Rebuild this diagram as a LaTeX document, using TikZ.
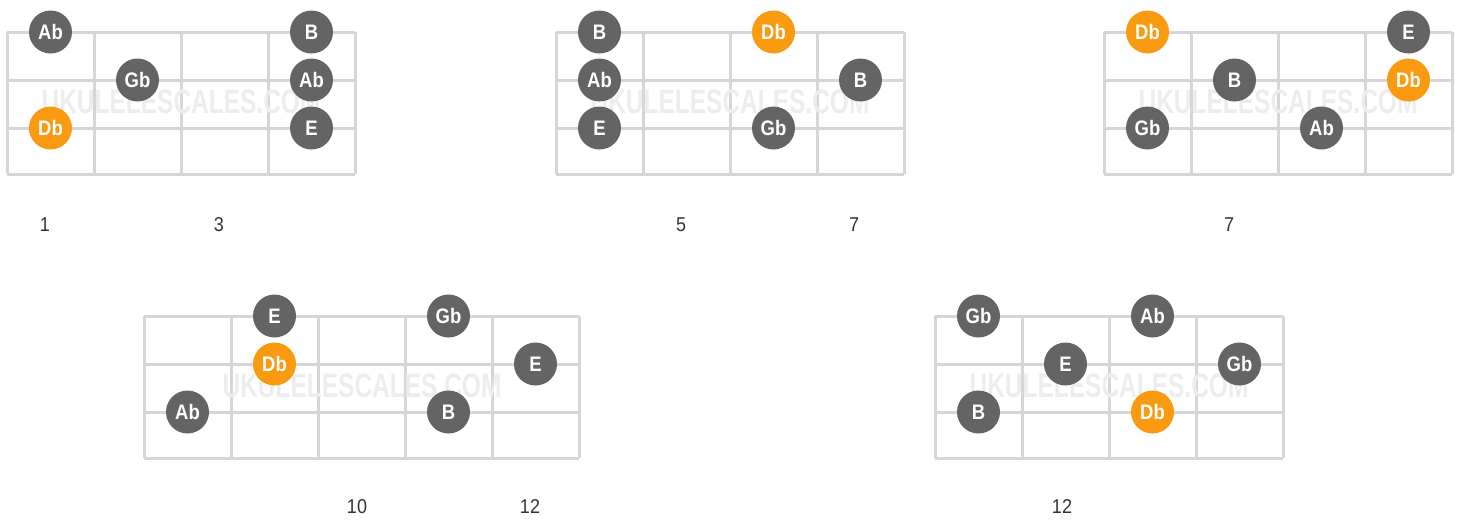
\documentclass[tikz,border=0pt]{standalone}
\usepackage{fontspec}
\setmainfont{Liberation Sans}
\newfontfamily\notefont[FakeStretch=0.88]{Liberation Sans}
\definecolor{notegray}{HTML}{646464}
\definecolor{rootorange}{HTML}{FA9A10}
\definecolor{fretgray}{HTML}{D6D6D6}
\definecolor{wmgray}{HTML}{EDEDED}
\definecolor{numgray}{HTML}{333333}
\tikzset{
  note/.style={circle, fill=notegray, text=white, minimum size=43pt, inner sep=0pt,
    font=\notefont\fontsize{21}{22}\selectfont\bfseries},
  root/.style={note, fill=rootorange},
  fretline/.style={draw=fretgray, line width=3pt},
  fretnum/.style={text=numgray, font=\fontsize{20}{22}\selectfont, xscale=0.9},
  watermark/.style={text=wmgray, font=\fontsize{34}{36}\selectfont\bfseries, xscale=0.72}
}
% draws the empty board with #1 fret spaces
\newcommand{\board}[1]{%
  \foreach \i in {0,...,#1}
    \draw[fretline] (87*\i,0) -- (87*\i,142);
  \foreach \j in {0,48,96,142}
    \draw[fretline] (0,\j) -- (87*#1,\j);
}
\begin{document}
\begin{tikzpicture}[x=1pt, y=-1pt]
  \useasboundingbox (0,0) rectangle (1460,520);

  % Board 1 (frets 1-4)
  \begin{scope}[shift={(7,32)}]
    \board{4}
    \node[watermark] (a-wm) at (174,70) {UKULELESCALES.COM};
    \foreach \c/\s/\n/\k [count=\m] in {0/0/Ab/note, 1/1/Gb/note, 0/2/Db/root,
                                        3/0/B/note, 3/1/Ab/note, 3/2/E/note}
      \node[\k] (a\m) at (87*\c+43.5, 48*\s) {\n};
    \node[fretnum] (a-one) at (38,193) {1};
    \node[fretnum] (a-three) at (212,193) {3};
  \end{scope}

  % Board 2 (frets 4-7)
  \begin{scope}[shift={(556,32)}]
    \board{4}
    \node[watermark] (b-wm) at (174,70) {UKULELESCALES.COM};
    \foreach \c/\s/\n/\k [count=\m] in {0/0/B/note, 2/0/Db/root, 0/1/Ab/note,
                                        3/1/B/note, 0/2/E/note, 2/2/Gb/note}
      \node[\k] (b\m) at (87*\c+43.5, 48*\s) {\n};
    \node[fretnum] (b-five) at (125,193) {5};
    \node[fretnum] (b-seven) at (298,193) {7};
  \end{scope}

  % Board 3 (frets 6-9)
  \begin{scope}[shift={(1104,32)}]
    \board{4}
    \node[watermark] (c-wm) at (174,70) {UKULELESCALES.COM};
    \foreach \c/\s/\n/\k [count=\m] in {0/0/Db/root, 3/0/E/note, 1/1/B/note,
                                        3/1/Db/root, 0/2/Gb/note, 2/2/Ab/note}
      \node[\k] (c\m) at (87*\c+43.5, 48*\s) {\n};
    \node[fretnum] (c-seven) at (125,193) {7};
  \end{scope}

  % Board 4 (frets 8-12)
  \begin{scope}[shift={(144,316)}]
    \board{5}
    \node[watermark] (d-wm) at (218,70) {UKULELESCALES.COM};
    \foreach \c/\s/\n/\k [count=\m] in {1/0/E/note, 3/0/Gb/note, 1/1/Db/root,
                                        4/1/E/note, 0/2/Ab/note, 3/2/B/note}
      \node[\k] (d\m) at (87*\c+43.5, 48*\s) {\n};
    \node[fretnum] (d-ten) at (213,191) {10};
    \node[fretnum] (d-twelve) at (386,191) {12};
  \end{scope}

  % Board 5 (frets 11-14)
  \begin{scope}[shift={(935,316)}]
    \board{4}
    \node[watermark] (e-wm) at (174,70) {UKULELESCALES.COM};
    \foreach \c/\s/\n/\k [count=\m] in {0/0/Gb/note, 2/0/Ab/note, 1/1/E/note,
                                        3/1/Gb/note, 0/2/B/note, 2/2/Db/root}
      \node[\k] (e\m) at (87*\c+43.5, 48*\s) {\n};
    \node[fretnum] (e-twelve) at (127,191) {12};
  \end{scope}
\end{tikzpicture}
\end{document}
